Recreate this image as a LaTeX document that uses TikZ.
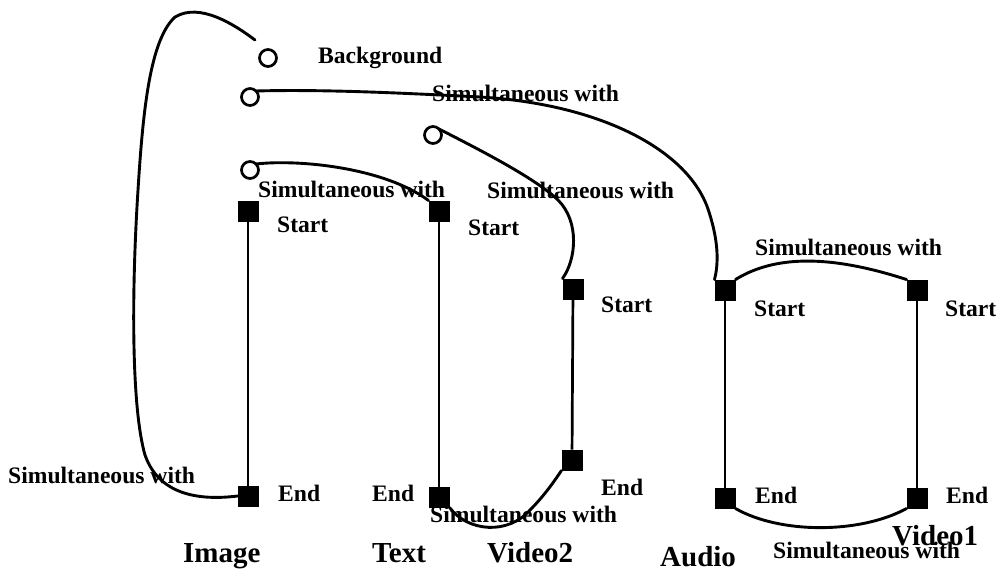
\documentclass[tikz,border=0pt]{standalone}
\usepackage{fontspec}
\setmainfont{Liberation Serif}
\begin{document}
\begin{tikzpicture}[x=1pt,y=-1pt,
  evt/.style={draw=none,fill=black,minimum size=21pt,inner sep=0pt,outer sep=0pt},
  ring/.style={circle,draw=black,line width=2.7pt,minimum size=17pt,inner sep=0pt,outer sep=0pt},
  lbl/.style={anchor=base west,inner sep=0pt,font=\fontsize{23.6}{25}\selectfont\bfseries},
  ttl/.style={anchor=base west,inner sep=0pt,font=\fontsize{29}{30}\selectfont\bfseries},
  link/.style={line width=2.9pt,line cap=round},
  bar/.style={line width=2.7pt}]
\useasboundingbox (0,0) rectangle (996,571);
\fill[white] (0,0) rectangle (996,571);

% open circles
\node[ring] (bg) at (268,58) {};
\node[ring] (c2) at (250,97) {};
\node[ring] (c3) at (433,135) {};
\node[ring] (c4) at (250,170) {};

% start / end events of each stream
\node[evt] (imgS) at (248,211) {};
\node[evt] (imgE) at (248,496) {};
\node[evt] (txtS) at (439,211) {};
\node[evt] (txtE) at (439,497) {};
\node[evt] (v2S) at (573,289) {};
\node[evt] (v2E) at (572,460) {};
\node[evt] (audS) at (725,290) {};
\node[evt] (audE) at (725,498) {};
\node[evt] (v1S) at (917,290) {};
\node[evt] (v1E) at (917,498) {};

% stream durations
\draw[bar] (imgS) -- (imgE);
\draw[bar] (txtS) -- (txtE);
\draw[bar] (v2S) -- (v2E);
\draw[bar] (audS) -- (audE);
\draw[bar] (v1S) -- (v1E);

% synchronisation links
\coordinate (bgtail) at ([shift={(-13,-18)}]bg.center);
\draw[link] (imgE.west) .. controls (205,500) and (160,498) .. (145,455)
  .. controls (132,410) and (131,300) .. (138,190)
  .. controls (143,110) and (150,40) .. (175,17)
  .. controls (200,2) and (235,25) .. (bgtail);
\draw[link] (c2.north east) .. controls (330,89) and (420,94) .. (480,97)
  .. controls (600,104) and (690,150) .. (709,212)
  .. controls (718,240) and (719,262) .. (audS.north west);
\draw[link] (c3.north east) .. controls (480,150) and (535,178) .. (558,200)
  .. controls (580,222) and (576,260) .. (v2S.north west);
\draw[link] (c4.north east) .. controls (300,159) and (385,168) .. (txtS.north west);
\draw[link] (audS.north east) .. controls (780,252) and (840,258) .. (v1S.north west);
\draw[link] (audE.south east) .. controls (780,534) and (860,534) .. (v1E.south west);
\draw[link] (txtE.south east) .. controls (468,532) and (508,535) .. (530,510)
  .. controls (545,495) and (555,480) .. (v2E.south west);

% labels
\node[lbl] (tbg) at (318,63) {Background};
\node[lbl] (s1) at (432,101) {Simultaneous with};
\node[lbl] (s2) at (258,197) {Simultaneous with};
\node[lbl] (s3) at (487,198) {Simultaneous with};
\node[lbl] (s4) at (755,255) {Simultaneous with};
\node[lbl] (s5) at (8,483) {Simultaneous with};
\node[lbl] (s6) at (430,522) {Simultaneous with};
\node[lbl] (s7) at (773,558) {Simultaneous with};

\node[lbl] (st1) at (277,232) {Start};
\node[lbl] (st2) at (468,235) {Start};
\node[lbl] (st3) at (601,312) {Start};
\node[lbl] (st4) at (754,316) {Start};
\node[lbl] (st5) at (945,316) {Start};

\node[lbl] (en1) at (278,501) {End};
\node[lbl] (en2) at (372,501) {End};
\node[lbl] (en3) at (601,495) {End};
\node[lbl] (en4) at (755,503) {End};
\node[lbl] (en5) at (946,503) {End};

% stream names
\node[ttl] (nImage) at (183,562) {Image};
\node[ttl] (nText) at (372,562) {Text};
\node[ttl] (nVideo2) at (487,562) {Video2};
\node[ttl] (nAudio) at (660,566) {Audio};
\node[ttl] (nVideo1) at (892,545) {Video1};
\end{tikzpicture}
\end{document}
